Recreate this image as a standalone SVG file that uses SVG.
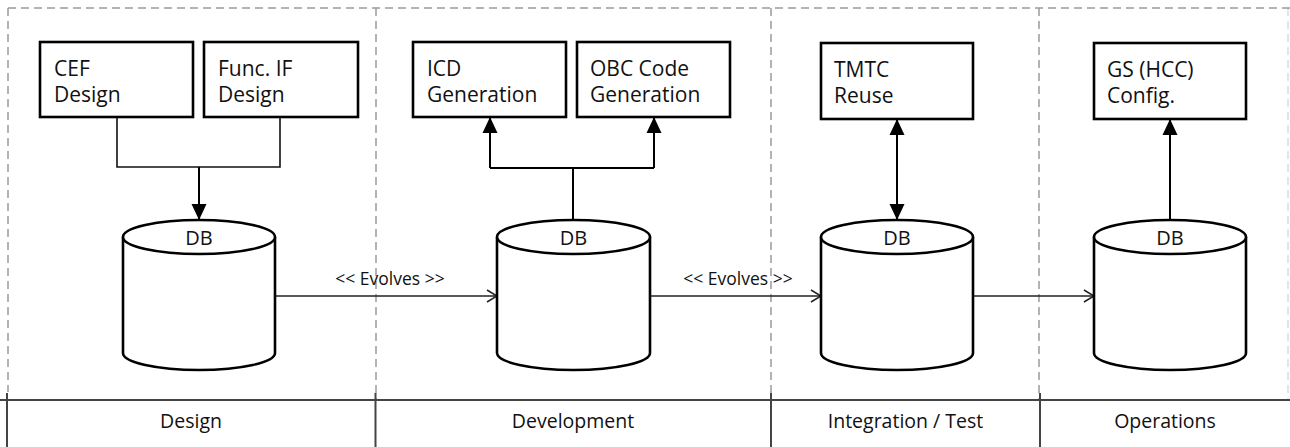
<svg xmlns="http://www.w3.org/2000/svg" width="1290" height="447" viewBox="0 0 1290 447">
  <style>
    .box { fill: #fff; stroke: #000; stroke-width: 2.6; }
    .db { fill: #fff; stroke: #000; stroke-width: 2.6; }
    .lbl { font-family: "Open Sans", "Liberation Sans", sans-serif; font-size: 21px; fill: #111; }
    .dbl { font-family: "Open Sans", "Liberation Sans", sans-serif; font-size: 20px; fill: #111; text-anchor: middle; }
    .evo { font-family: "Open Sans", "Liberation Sans", sans-serif; font-size: 17.5px; fill: #111; text-anchor: middle; }
    .phase { font-family: "Open Sans", "Liberation Sans", sans-serif; font-size: 19.5px; fill: #111; text-anchor: middle; }
    .dash { stroke: #9a9a9a; stroke-width: 1.5; stroke-dasharray: 8 5; fill: none; }
    .conn { stroke: #111; stroke-width: 1.6; fill: none; }
    .connb { stroke: #000; stroke-width: 2; fill: none; }
    .evl { stroke: #222; stroke-width: 1.5; fill: none; }
    .tbl { stroke: #444; stroke-width: 2; fill: none; }
  </style>
  <defs>
    <marker id="tri" viewBox="0 0 16 16" refX="16" refY="8" markerWidth="16" markerHeight="16" markerUnits="userSpaceOnUse" orient="auto-start-reverse">
      <path d="M0,0.5 L16,8 L0,15.5 z" fill="#000"/>
    </marker>
    <marker id="open" viewBox="0 0 12 14" refX="11" refY="7" markerWidth="12" markerHeight="14" markerUnits="userSpaceOnUse" orient="auto">
      <path d="M1,1 L11,7 L1,13" fill="none" stroke="#222" stroke-width="1.5"/>
    </marker>
  </defs>

  <rect width="1290" height="447" fill="#fff"/>

  <g id="frame">
    <line class="dash" x1="8" y1="8" x2="1290" y2="8"/>
    <line class="dash" x1="8" y1="8" x2="8" y2="392"/>
    <line class="dash" x1="376" y1="8" x2="376" y2="400"/>
    <line class="dash" x1="771" y1="8" x2="771" y2="400"/>
    <line class="dash" x1="1039" y1="8" x2="1039" y2="400"/>
    <line class="dash" x1="1288" y1="8" x2="1288" y2="400" opacity="0.35"/>
  </g>

  <g id="phase-table">
    <line class="tbl" x1="0" y1="400" x2="1290" y2="400"/>
    <line class="tbl" x1="7" y1="393" x2="7" y2="447"/>
    <line class="tbl" x1="375.5" y1="393" x2="375.5" y2="447"/>
    <line class="tbl" x1="771" y1="393" x2="771" y2="447"/>
    <line class="tbl" x1="1040" y1="393" x2="1040" y2="447"/>
    <text class="phase" x="191" y="428">Design</text>
    <text class="phase" x="573" y="428">Development</text>
    <text class="phase" x="905.5" y="428">Integration / Test</text>
    <text class="phase" x="1165" y="428">Operations</text>
  </g>

  <g id="connectors">
    <path class="conn" d="M117,117 V167 H280 V117"/>
    <path class="connb" d="M199,167 V220" marker-end="url(#tri)"/>
    <path class="connb" d="M490,168 V117" marker-end="url(#tri)"/>
    <path class="connb" d="M654,168 V117" marker-end="url(#tri)"/>
    <path class="connb" d="M490,168 H654"/>
    <path class="connb" d="M573,168 V220"/>
    <path class="connb" d="M897,119 V220" marker-start="url(#tri)" marker-end="url(#tri)"/>
    <path class="connb" d="M1170,220 V119" marker-end="url(#tri)"/>
    <path class="evl" d="M276,296 H497" marker-end="url(#open)"/>
    <path class="evl" d="M650,296 H821" marker-end="url(#open)"/>
    <path class="evl" d="M973,296 H1094" marker-end="url(#open)"/>
    <text class="evo" x="390" y="285">&lt;&lt; Evolves &gt;&gt;</text>
    <text class="evo" x="738" y="285">&lt;&lt; Evolves &gt;&gt;</text>
  </g>

  <g id="cef-design">
    <rect class="box" x="40" y="42" width="153" height="75"/>
    <text class="lbl" x="54" y="76">CEF</text>
    <text class="lbl" x="54" y="102">Design</text>
  </g>
  <g id="func-if-design">
    <rect class="box" x="204" y="42" width="154" height="75"/>
    <text class="lbl" x="218" y="76">Func. IF</text>
    <text class="lbl" x="218" y="102">Design</text>
  </g>
  <g id="icd-generation">
    <rect class="box" x="413" y="42" width="153" height="75"/>
    <text class="lbl" x="427" y="76">ICD</text>
    <text class="lbl" x="427" y="102">Generation</text>
  </g>
  <g id="obc-code-generation">
    <rect class="box" x="577" y="42" width="153" height="75"/>
    <text class="lbl" x="590" y="76">OBC Code</text>
    <text class="lbl" x="590" y="102">Generation</text>
  </g>
  <g id="tmtc-reuse">
    <rect class="box" x="821" y="43" width="152" height="76"/>
    <text class="lbl" x="834" y="77">TMTC</text>
    <text class="lbl" x="834" y="103">Reuse</text>
  </g>
  <g id="gs-config">
    <rect class="box" x="1094" y="43" width="152" height="76"/>
    <text class="lbl" x="1107" y="77">GS (HCC)</text>
    <text class="lbl" x="1107" y="103">Config.</text>
  </g>

  <g id="db-design">
    <path class="db" d="M123,237 V353 A76,17 0 0 0 275,353 V237"/>
    <ellipse class="db" cx="199" cy="237" rx="76" ry="17"/>
    <text class="dbl" x="199" y="245">DB</text>
  </g>
  <g id="db-development">
    <path class="db" d="M497,237 V353 A76.5,17 0 0 0 650,353 V237"/>
    <ellipse class="db" cx="573.5" cy="237" rx="76.5" ry="17"/>
    <text class="dbl" x="573.5" y="245">DB</text>
  </g>
  <g id="db-integration">
    <path class="db" d="M821,237 V353 A76,17 0 0 0 973,353 V237"/>
    <ellipse class="db" cx="897" cy="237" rx="76" ry="17"/>
    <text class="dbl" x="897" y="245">DB</text>
  </g>
  <g id="db-operations">
    <path class="db" d="M1094,237 V353 A76,17 0 0 0 1246,353 V237"/>
    <ellipse class="db" cx="1170" cy="237" rx="76" ry="17"/>
    <text class="dbl" x="1170" y="245">DB</text>
  </g>
</svg>
